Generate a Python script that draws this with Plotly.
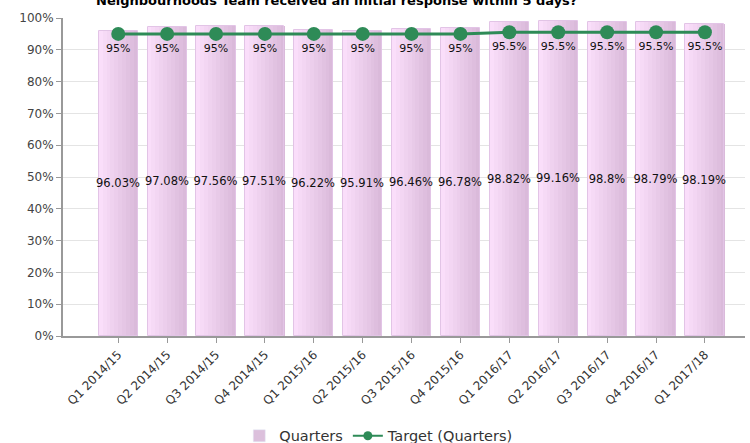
import plotly.graph_objects as go

categories = ["Q1 2014/15", "Q2 2014/15", "Q3 2014/15", "Q4 2014/15",
              "Q1 2015/16", "Q2 2015/16", "Q3 2015/16", "Q4 2015/16",
              "Q1 2016/17", "Q2 2016/17", "Q3 2016/17", "Q4 2016/17",
              "Q1 2017/18"]
quarters = [96.03, 97.08, 97.56, 97.51, 96.22, 95.91, 96.46, 96.78,
            98.82, 99.16, 98.8, 98.79, 98.19]
target = [95, 95, 95, 95, 95, 95, 95, 95, 95.5, 95.5, 95.5, 95.5, 95.5]
y_ticks = [0, 10, 20, 30, 40, 50, 60, 70, 80, 90, 100]
y_tick_labels = [f"{v}%" for v in y_ticks]
title_text = "Neighbourhoods Team received an initial response within 5 days?"

FONT = "DejaVu Sans"
GREEN = "#2e8b57"
xs = list(range(len(categories)))

fig = go.Figure()

# gradient bars built from vertical stripes
n_strips = 10
bar_w = 0.8
c0 = (250, 222, 250)
c1 = (218, 186, 218)
for k in range(n_strips):
    t = k / (n_strips - 1)
    col = "rgb({},{},{})".format(*[round(a + (b - a) * t) for a, b in zip(c0, c1)])
    fig.add_trace(go.Bar(
        x=xs, y=quarters, width=bar_w / n_strips + 0.002,
        offset=-bar_w / 2 + k * bar_w / n_strips,
        marker=dict(color=col, line=dict(width=0)),
        showlegend=False, hoverinfo="skip",
    ))

# outline + label bar
fig.add_trace(go.Bar(
    x=xs, y=quarters, width=bar_w, name="Quarters",
    marker=dict(color="rgba(0,0,0,0)", line=dict(color="#e2c4e6", width=1)),
    text=[f"{v:g}%" for v in quarters], textposition="inside",
    insidetextanchor="middle", textangle=0,
    textfont=dict(family=FONT, size=11.5, color="#111"),
    showlegend=False,
))

fig.add_trace(go.Scatter(
    x=xs, y=target, name="Target (Quarters)", mode="lines+markers+text",
    line=dict(color=GREEN, width=3),
    marker=dict(color=GREEN, size=14),
    text=[f"{v:g}%" for v in target], textposition="bottom center",
    textfont=dict(family=FONT, size=11, color="#111"),
    cliponaxis=False, showlegend=False,
))

# legend entries
fig.add_trace(go.Bar(
    x=[None], y=[None], name="Quarters",
    marker=dict(color="#dcc0dc"), showlegend=True,
))
fig.add_trace(go.Scatter(
    x=[None], y=[None], name="Target (Quarters)", mode="lines+markers",
    line=dict(color=GREEN, width=2), marker=dict(color=GREEN, size=9),
    showlegend=True,
))

fig.update_layout(
    width=750, height=443,
    barmode="overlay", bargap=0,
    plot_bgcolor="white", paper_bgcolor="white",
    margin=dict(l=63, r=5, t=18, b=107, autoexpand=False),
    font=dict(family=FONT, size=12, color="#333"),
    uniformtext=dict(minsize=11, mode="show"),
    title=dict(text="<b>" + title_text + "</b>", x=0.449, xanchor="center",
               y=1.0, yref="container", yanchor="middle",
               font=dict(family=FONT, size=13, color="#000")),
    showlegend=True,
    legend=dict(orientation="h", x=0.463, xanchor="center", y=-0.314,
                yanchor="middle", font=dict(family=FONT, size=14.5, color="#333"),
                traceorder="normal", itemwidth=30, tracegroupgap=0),
    xaxis=dict(
        tickmode="array", tickvals=xs, ticktext=categories, tickangle=-45,
        range=[-1.13, 12.82], showgrid=False, showline=True,
        linecolor="#999", linewidth=2, ticks="outside", ticklen=5,
        tickcolor="#999", tickfont=dict(family=FONT, size=12, color="#333"),
        zeroline=False, automargin=False,
    ),
    yaxis=dict(
        range=[0, 100], tickmode="array", tickvals=y_ticks,
        ticktext=y_tick_labels, showgrid=True, gridcolor="#e4e4e4",
        showline=True, linecolor="#999", linewidth=2, ticks="outside",
        ticklen=5, tickcolor="#999",
        tickfont=dict(family=FONT, size=12, color="#444"),
        zeroline=False, automargin=False,
    ),
)

fig.write_html(
    "out.html",
    config={"displayModeBar": False},
    post_script="document.body.style.margin='0';document.body.style.overflow='hidden';",
)
